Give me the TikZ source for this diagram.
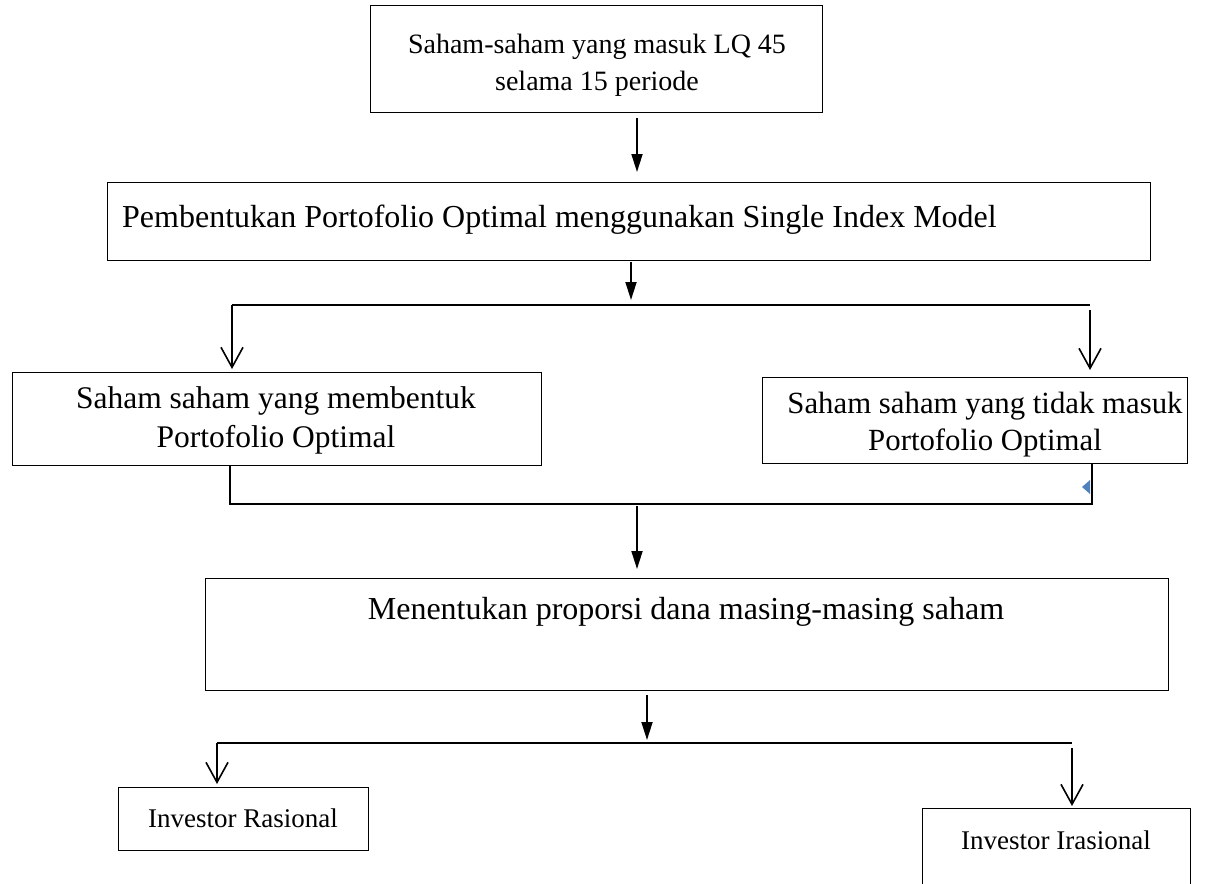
\documentclass[tikz,border=0pt]{standalone}
\usepackage{fontspec}
\setmainfont{Liberation Serif}
\usetikzlibrary{arrows.meta}
\begin{document}
\begin{tikzpicture}[x=1pt,y=-1pt,
  box/.style={draw=black,line width=1.3pt,inner sep=0pt,anchor=north west},
  txt/.style={align=center,inner sep=0pt},
  fa/.style={font=\fontsize{28}{37}\selectfont},
  fb/.style={font=\fontsize{31.5}{39}\selectfont},
  fbb/.style={font=\fontsize{30.8}{37}\selectfont},
  fc/.style={font=\fontsize{32}{38}\selectfont},
  fd/.style={font=\fontsize{27}{33}\selectfont},
  conn/.style={line width=1.8pt},
  fillarrow/.style={conn,-{Triangle[width=11pt,length=18pt]}},
  openarrow/.style={conn,-{Straight Barb[width=22pt,length=20pt,line width=1.6pt]}}
]
\useasboundingbox (0,0) rectangle (1214,883);
% boxes
\node[box,minimum width=452pt,minimum height=107pt] (b1) at (370,5) {};
\node[box,minimum width=1043pt,minimum height=78pt] (b2) at (107,182) {};
\node[box,minimum width=529pt,minimum height=93pt] (b3) at (12,372) {};
\node[box,minimum width=425pt,minimum height=86pt] (b4) at (762,377) {};
\node[box,minimum width=963pt,minimum height=112pt] (b5) at (205,578) {};
\node[box,minimum width=250pt,minimum height=63pt] (b6) at (118,787) {};
\node[box,minimum width=268pt,minimum height=90pt] (b7) at (922,808) {};
% texts
\node[txt,fa] (t1) at (597,65) {Saham-saham yang masuk LQ 45\\selama 15 periode};
\node[txt,fc,anchor=west] (t2) at (122,220) {Pembentukan Portofolio Optimal menggunakan Single Index Model};
\node[txt,fb] (t3) at (276,420) {Saham saham yang membentuk\\Portofolio Optimal};
\node[txt,fbb] (t4) at (985,425) {Saham saham yang tidak masuk\\Portofolio Optimal};
\node[txt,fc] (t5) at (686,612) {Menentukan proporsi dana masing-masing saham};
\node[txt,fd] (t6) at (243,818) {Investor Rasional};
\node[txt,fd] (t7) at (1056,840) {Investor Irasional};
% junction coordinates
\coordinate (a1s) at (637,118);
\coordinate (a1e) at (637,172);
\coordinate (a2s) at (631,262);
\coordinate (a2e) at (631,300);
\coordinate (h1l) at (232,305);
\coordinate (h1r) at (1090,305);
\coordinate (r1s) at (1090,310);
\coordinate (r1e) at (1090,370);
\coordinate (l1e) at (232,369);
\coordinate (j3) at (230,504);
\coordinate (j4) at (1092,504);
\coordinate (a3s) at (637,506);
\coordinate (a3e) at (637,569);
\coordinate (a4s) at (647,695);
\coordinate (a4e) at (647,740);
\coordinate (h2l) at (217,743);
\coordinate (h2r) at (1072,743);
\coordinate (l2e) at (217,784);
\coordinate (r2s) at (1072,748);
\coordinate (r2e) at (1072,806);
% connectors
\draw[fillarrow] (a1s) -- (a1e);
\draw[fillarrow] (a2s) -- (a2e);
\draw[conn] (h1l) -- (h1r);
\draw[openarrow] (h1l) -- (l1e);
\draw[openarrow] (r1s) -- (r1e);
\draw[conn] (b3.south west -| j3) -- (j3) -- (j4) -- (b4.south west -| j4);
\draw[fillarrow] (a3s) -- (a3e);
\draw[fillarrow] (a4s) -- (a4e);
\draw[conn] (h2l) -- (h2r);
\draw[openarrow] (h2l) -- (l2e);
\draw[openarrow] (r2s) -- (r2e);
\fill[fill={rgb,255:red,79;green,129;blue,189}] (1090,480) -- (1090,494) -- (1082,487) -- cycle;
\end{tikzpicture}
\end{document}
